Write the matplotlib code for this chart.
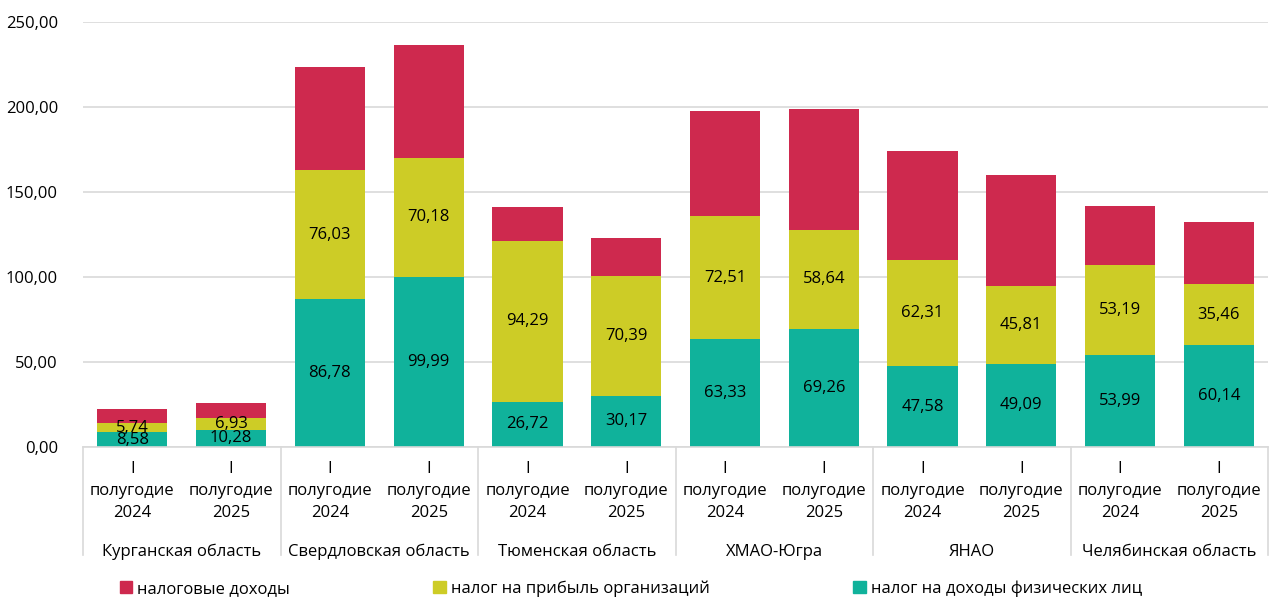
import matplotlib.pyplot as plt
from matplotlib.patches import Patch

plt.rcParams['font.family'] = ['Open Sans', 'DejaVu Sans']

regions = ["Курганская область", "Свердловская область", "Тюменская область",
           "ХМАО-Югра", "ЯНАО", "Челябинская область"]
periods = ["I\nполугодие\n2024", "I\nполугодие\n2025"]

ndfl = [8.58, 10.28, 86.78, 99.99, 26.72, 30.17, 63.33, 69.26, 47.58, 49.09, 53.99, 60.14]
profit = [5.74, 6.93, 76.03, 70.18, 94.29, 70.39, 72.51, 58.64, 62.31, 45.81, 53.19, 35.46]
# top (red) segment
tax_other = [8.1, 8.7, 60.7, 66.3, 20.2, 22.3, 61.8, 70.9, 64.2, 65.1, 34.6, 36.8]

series_names = ["налоговые доходы", "налог на прибыль организаций", "налог на доходы физических лиц"]
colors = ["#CE294E", "#CDCC26", "#10B29B"]

fig = plt.figure(figsize=(12.69, 5.97), dpi=100)
ax = fig.add_axes([0.0654, 0.2513, 0.934, 0.7118])

x = list(range(len(ndfl)))
w = 0.71
ax.bar(x, ndfl, w, color=colors[2])
ax.bar(x, profit, w, bottom=ndfl, color=colors[1])
base3 = [a + b for a, b in zip(ndfl, profit)]
ax.bar(x, tax_other, w, bottom=base3, color=colors[0])

def fmt(v):
    return f"{v:.2f}".replace(".", ",")

for i in x:
    ax.text(i, ndfl[i] / 2, fmt(ndfl[i]), ha="center", va="center", fontsize=12)
    ax.text(i, ndfl[i] + profit[i] / 2, fmt(profit[i]), ha="center", va="center", fontsize=12)

ax.set_xlim(-0.5, len(x) - 0.5)
ax.set_ylim(0, 250)
ax.set_yticks(range(0, 251, 50))
ax.set_yticklabels([fmt(v) for v in range(0, 251, 50)], fontsize=12)
ax.yaxis.grid(True, color="#D9D9D9", linewidth=1.2)
ax.set_axisbelow(True)
ax.tick_params(axis="y", length=0, pad=18)
ax.set_xticks([])
for s in ["top", "right", "left"]:
    ax.spines[s].set_visible(False)
ax.spines["bottom"].set_color("#D9D9D9")
ax.spines["bottom"].set_linewidth(1.2)

trans = ax.get_xaxis_transform()
for i in x:
    ax.text(i, -0.033, periods[i % 2], transform=trans, ha="center", va="top",
            fontsize=12, linespacing=1.5)
for k, name in enumerate(regions):
    ax.text(2 * k + 0.5, -0.247, name, transform=trans, ha="center", va="center", fontsize=12)
for k in range(len(regions) + 1):
    ax.plot([2 * k - 0.5, 2 * k - 0.5], [0, -0.255], transform=trans, color="#D9D9D9",
            linewidth=1.2, clip_on=False)

handles = [Patch(color=c) for c in colors]
fig.legend(handles, series_names, loc="center left", bbox_to_anchor=(0.089, 0.014),
           ncol=3, frameon=False, fontsize=12, handlelength=0.75, handleheight=0.75,
           handletextpad=0.3, columnspacing=8.6, borderaxespad=0)

fig.savefig("out.png", dpi=100)
